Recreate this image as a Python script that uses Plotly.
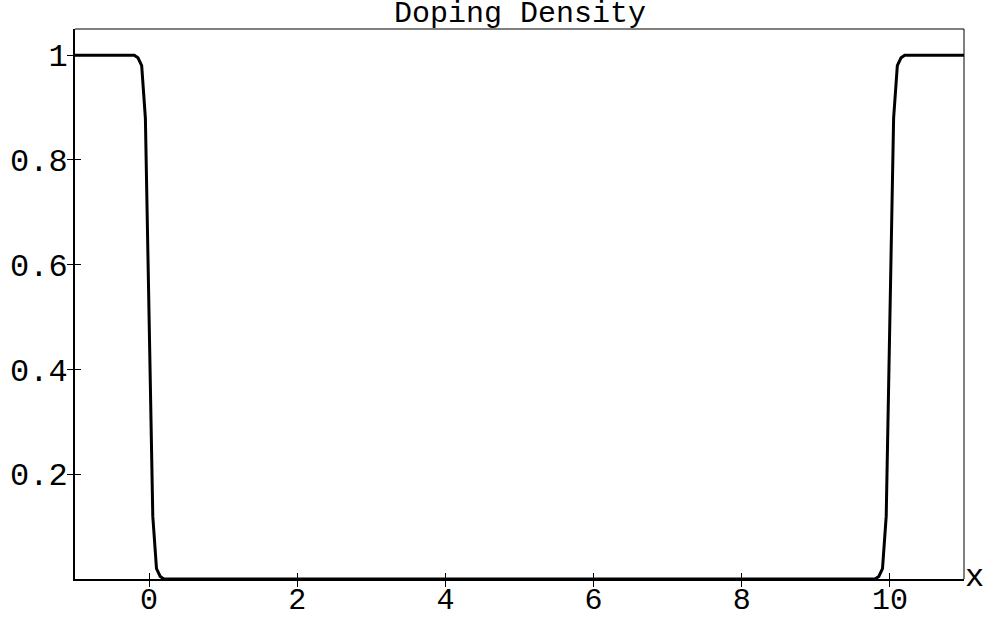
import plotly.graph_objects as go

# data
x_vals = [-1, -0.2, -0.15, -0.1, -0.05, 0.0, 0.05, 0.1, 0.15, 0.2,
          9.8, 9.85, 9.9, 9.95, 10.0, 10.05, 10.1, 10.15, 10.2, 11]
y_vals = [1, 1, 0.995, 0.98, 0.88, 0.5, 0.12, 0.02, 0.005, 0,
          0, 0.005, 0.02, 0.12, 0.5, 0.88, 0.98, 0.995, 1, 1]

x_tickvals = [0, 2, 4, 6, 8, 10]
x_ticktext = ["0", "2", "4", "6", "8", "10"]
y_tickvals = [0.2, 0.4, 0.6, 0.8, 1.0]
y_ticktext = ["0.2", "0.4", "0.6", "0.8", "1"]

title_text = "Doping Density"
x_label = "x"

FONT = "Liberation Mono"
FS = 32
FS_X = 30
FS_T = 30

fig = go.Figure()
fig.add_trace(go.Scatter(x=x_vals, y=y_vals, mode="lines",
                         line=dict(color="black", width=3),
                         showlegend=False, hoverinfo="skip"))
# invisible trace to activate overlay axes
fig.add_trace(go.Scatter(x=[x_vals[0]], y=[y_vals[0]], xaxis="x2", yaxis="y2",
                         mode="markers", marker=dict(opacity=0),
                         showlegend=False, hoverinfo="skip"))

xr = [-1, 11]
yr = [0, 1.05]

fig.update_layout(
    width=989, height=619,
    margin=dict(l=75, r=25, t=29, b=40, pad=0, autoexpand=False),
    paper_bgcolor="white", plot_bgcolor="white",
    font=dict(family=FONT, size=FS, color="black"),
    xaxis=dict(range=xr, showgrid=False, zeroline=False, automargin=False,
               showline=True, linewidth=2, linecolor="black",
               ticks="outside", ticklen=6, tickwidth=1, tickcolor="black",
               tickvals=x_tickvals, ticktext=x_ticktext, ticklabelstandoff=-14,
               tickfont=dict(family=FONT, size=FS_X)),
    yaxis=dict(range=yr, showgrid=False, zeroline=False, automargin=False,
               showline=True, linewidth=2, linecolor="black",
               ticks="outside", ticklen=6, tickwidth=1, tickcolor="black",
               tickvals=y_tickvals, ticktext=y_ticktext, ticklabelstandoff=-7,
               tickfont=dict(family=FONT, size=FS)),
    xaxis2=dict(range=xr, overlaying="x", side="bottom", anchor="y",
                showgrid=False, zeroline=False, showline=False, automargin=False,
                ticks="inside", ticklen=6, tickwidth=1, tickcolor="black",
                tickvals=x_tickvals, showticklabels=False),
    yaxis2=dict(range=yr, overlaying="y", side="left", anchor="x",
                showgrid=False, zeroline=False, showline=False, automargin=False,
                ticks="inside", ticklen=6, tickwidth=1, tickcolor="black",
                tickvals=y_tickvals, showticklabels=False),
    shapes=[
        dict(type="line", xref="paper", yref="paper", x0=0, x1=1, y0=1, y1=1,
             line=dict(color="black", width=1)),
        dict(type="line", xref="paper", yref="paper", x0=1, x1=1, y0=0, y1=1,
             line=dict(color="black", width=1)),
    ],
    annotations=[
        dict(text=title_text, xref="paper", yref="paper", x=0.5, y=1.0,
             xanchor="center", yanchor="middle", yshift=15, showarrow=False,
             font=dict(family=FONT, size=FS_T)),
        dict(text=x_label, xref="paper", yref="paper", x=1, y=0,
             xanchor="left", yanchor="middle", xshift=-1, yshift=2,
             showarrow=False, font=dict(family=FONT, size=FS)),
    ],
)

fig.write_html("out.html", config={"displayModeBar": False},
               post_script="document.body.style.margin='0';document.body.style.padding='0';")
